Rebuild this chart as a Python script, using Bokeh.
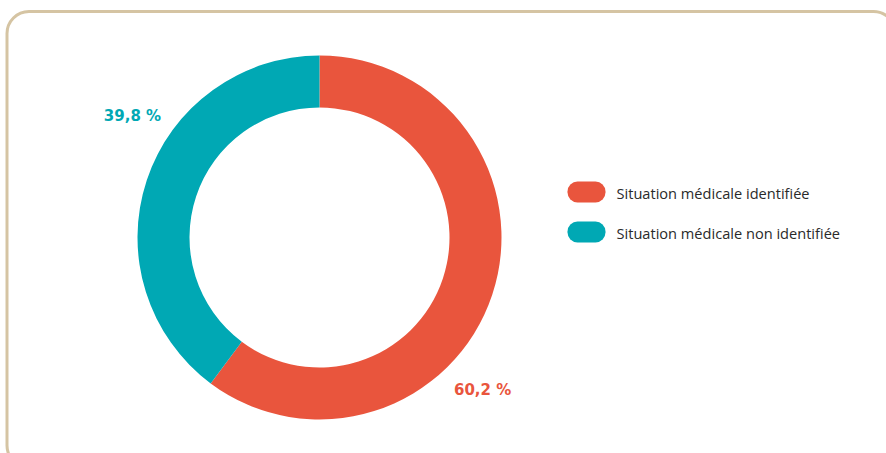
import math
from bokeh.plotting import figure
from bokeh.models import Range1d, ColumnDataSource
from bokeh.core.properties import value
from bokeh.embed import file_html
from bokeh.resources import INLINE

# ---- data ----
categories = ["Situation médicale identifiée", "Situation médicale non identifiée"]
shares = [60.2, 39.8]
labels = ["60,2 %", "39,8 %"]
colors = ["#E9553D", "#00A8B4"]

# ---- layout (1 data unit = 1 screen pixel) ----
W, H = 886, 453
cx, cy = 311, 216          # donut centre
r_in, r_out = 130, 182
label_angle = [-43, 147]   # degrees, placement of percentage labels
label_r = 223

p = figure(width=W, height=H, x_range=Range1d(-8, W - 8), y_range=Range1d(0, H),
           output_backend="svg", toolbar_location=None, min_border=0)
p.axis.visible = False
p.grid.visible = False
p.outline_line_color = None
p.background_fill_color = "white"
p.border_fill_color = "white"

# frame
p.quad(left=[-1.5], right=[887], top=[442], bottom=[-14], fill_color=None,
       line_color="#D5C4A3", line_width=3, border_radius=22)

# donut: first slice clockwise from 12 o'clock, second anticlockwise
total = sum(shares)
starts, ends = [], []
a = math.pi / 2
span0 = 2 * math.pi * shares[0] / total
starts.append(a - span0); ends.append(a)
span1 = 2 * math.pi * shares[1] / total
starts.append(a); ends.append(a + span1)

src = ColumnDataSource(dict(start=starts, end=ends, color=colors, cat=categories))
p.annular_wedge(x=cx, y=cy, inner_radius=r_in, outer_radius=r_out,
                start_angle="start", end_angle="end", fill_color="color",
                line_color=None, source=src)

# percentage labels
lx = [cx + label_r * math.cos(math.radians(d)) for d in label_angle]
ly = [cy + label_r * math.sin(math.radians(d)) for d in label_angle]
p.text(x=lx, y=ly, text=labels, text_color=colors, text_font=value("DejaVu Sans"),
       text_font_style="bold", text_font_size="15px", text_align="center",
       text_baseline="middle")

# legend
lg_x, lg_y0, lg_dy = 559, 261.5, 40
pill_w, pill_h = 38, 21
ys = [lg_y0 - i * lg_dy for i in range(len(categories))]
p.quad(left=[lg_x] * len(ys), right=[lg_x + pill_w] * len(ys),
       top=[y + pill_h / 2 for y in ys], bottom=[y - pill_h / 2 for y in ys],
       fill_color=colors, line_color=None, border_radius=10)
p.text(x=[lg_x + 49] * len(ys), y=[y - 1 for y in ys], text=categories,
       text_color="#2a2a2a", text_font=value("Open Sans"), text_font_size="14.6px",
       text_align="left", text_baseline="middle")

open("out.html", "w").write(file_html(p, INLINE))
